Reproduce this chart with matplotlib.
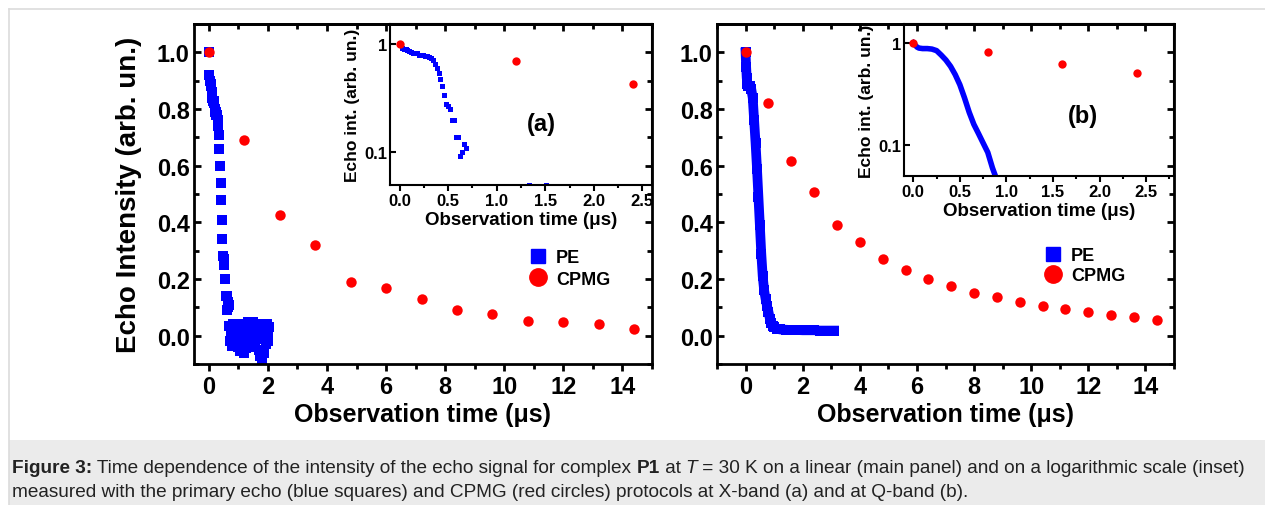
import matplotlib.pyplot as plt
from matplotlib.lines import Line2D
from matplotlib.patches import Rectangle
from matplotlib.ticker import MultipleLocator, FormatStrFormatter, NullLocator

plt.rcParams['font.family'] = ['Liberation Sans', 'DejaVu Sans']
plt.rcParams['font.weight'] = 'bold'
plt.rcParams['axes.labelweight'] = 'bold'

W, H = 1265, 506
BLUE = '#0000ff'
RED = '#ff0000'

# X-band (a): primary echo, decay part
pe_a_t = [0.00, 0.02, 0.04, 0.06, 0.08, 0.10, 0.12, 0.14, 0.16, 0.18,
          0.20, 0.22, 0.24, 0.26, 0.28, 0.30, 0.32, 0.34, 0.36, 0.38,
          0.40, 0.42, 0.44, 0.46, 0.48, 0.50, 0.52, 0.54, 0.56, 0.58,
          0.60, 0.62, 0.64, 0.66, 0.68]
pe_a_i = [1.00, 0.92, 0.90, 0.89, 0.88, 0.86, 0.84, 0.83, 0.83, 0.82,
          0.79, 0.80, 0.79, 0.78, 0.78, 0.76, 0.74, 0.71, 0.66, 0.60,
          0.54, 0.48, 0.41, 0.34, 0.28, 0.27, 0.25, 0.20, 0.20, 0.14,
          0.14, 0.092, 0.10, 0.12, 0.11]
# X-band (a): primary echo, noise floor
pe_a_noise_t = [0.70, 0.73, 0.76, 0.79, 0.82, 0.85, 0.88, 0.91, 0.94, 0.97,
                1.00, 1.03, 1.06, 1.09, 1.12, 1.15, 1.18, 1.21, 1.24, 1.27,
                1.30, 1.33, 1.36, 1.39, 1.42, 1.45, 1.48, 1.51, 1.54, 1.57,
                1.60, 1.63, 1.66, 1.69, 1.72, 1.75, 1.78, 1.81, 1.84, 1.87,
                1.90, 1.93, 1.96, 1.99, 2.02, 2.05]
pe_a_noise_i = [0.035, -0.02, 0.01, -0.035, 0.04, 0.0, -0.03, 0.02, -0.01, 0.04,
                -0.04, 0.015, -0.055, 0.03, -0.015, 0.04, -0.06, 0.0, 0.035, -0.045,
                0.02, 0.05, -0.03, 0.01, -0.02, 0.04, -0.04, 0.05, 0.005, -0.025,
                0.03, -0.01, 0.04, -0.05, 0.02, -0.07, 0.0, -0.095, 0.04, -0.06,
                0.025, -0.03, 0.04, 0.0, -0.02, 0.03]
cpmg_a_t = [0.0, 1.2, 2.4, 3.6, 4.8, 6.0, 7.2, 8.4, 9.6, 10.8, 12.0, 13.2, 14.4]
cpmg_a_i = [1.0, 0.69, 0.425, 0.32, 0.19, 0.17, 0.128, 0.091, 0.076, 0.053,
            0.048, 0.040, 0.023]

# Q-band (b)
pe_b_t = [0.0, 0.02, 0.04, 0.06, 0.1, 0.15, 0.2, 0.25, 0.3, 0.35, 0.4, 0.45,
          0.5, 0.55, 0.6, 0.65, 0.7, 0.75, 0.8, 0.85, 0.9, 0.95, 1.0, 1.1,
          1.2, 1.4, 1.6, 1.8, 2.0, 2.2, 2.4, 2.6, 2.8, 3.0, 3.1]
pe_b_i = [1.0, 0.95, 0.91, 0.89, 0.88, 0.88, 0.87, 0.84, 0.76, 0.68, 0.59, 0.49,
          0.39, 0.29, 0.21, 0.16, 0.13, 0.105, 0.085, 0.06, 0.045, 0.035, 0.03, 0.025,
          0.022, 0.021, 0.02, 0.02, 0.019, 0.019, 0.019, 0.018, 0.018, 0.018, 0.018]
cpmg_b_t = [0.0, 0.8, 1.6, 2.4, 3.2, 4.0, 4.8, 5.6, 6.4, 7.2, 8.0, 8.8, 9.6,
            10.4, 11.2, 12.0, 12.8, 13.6, 14.4]
cpmg_b_i = [1.0, 0.82, 0.616, 0.508, 0.392, 0.332, 0.271, 0.233, 0.200, 0.175,
            0.151, 0.136, 0.118, 0.106, 0.094, 0.083, 0.074, 0.065, 0.057]

caption_1 = [('Figure 3:', 'bold', 'normal'),
             (' Time dependence of the intensity of the echo signal for complex ', 'normal', 'normal'),
             ('P1', 'bold', 'normal'),
             (' at ', 'normal', 'normal'),
             ('T', 'normal', 'italic'),
             (' = 30 K on a linear (main panel) and on a logarithmic scale (inset)', 'normal', 'normal')]
caption_2 = [('measured with the primary echo (blue squares) and CPMG (red circles) '
              'protocols at X-band (a) and at Q-band (b).', 'normal', 'normal')]

fig = plt.figure(figsize=(W / 100, H / 100), dpi=100)


def px_axes(left, top, right, bottom, **kw):
    return fig.add_axes([left / W, 1 - bottom / H, (right - left) / W, (bottom - top) / H], **kw)


def style_main(ax, xlim):
    ax.set_xlim(*xlim)
    ax.set_ylim(-0.1, 1.1)
    ax.xaxis.set_major_locator(MultipleLocator(2))
    ax.xaxis.set_minor_locator(MultipleLocator(1))
    ax.yaxis.set_major_locator(MultipleLocator(0.2))
    ax.yaxis.set_minor_locator(MultipleLocator(0.1))
    ax.xaxis.set_major_formatter(FormatStrFormatter('%d'))
    ax.yaxis.set_major_formatter(FormatStrFormatter('%.1f'))
    for s in ax.spines.values():
        s.set_linewidth(2)
    ax.tick_params(axis='y', which='both', direction='in', left=True, right=True, width=2)
    ax.tick_params(axis='x', which='both', direction='out', width=2)
    ax.tick_params(which='major', length=5, labelsize=17, pad=3)
    ax.tick_params(which='minor', length=3.5)
    top = ax.secondary_xaxis('top')
    top.xaxis.set_major_locator(MultipleLocator(2))
    top.xaxis.set_minor_locator(MultipleLocator(1))
    top.tick_params(which='both', direction='in', labeltop=False, width=2)
    top.tick_params(which='major', length=5)
    top.tick_params(which='minor', length=3.5)
    top.spines['top'].set_linewidth(2)
    ax.set_xlabel('Observation time (\u03bcs)', fontsize=18, fontweight='bold', labelpad=3)


def style_inset(ax, xlim):
    ax.set_facecolor('none')
    ax.set_yscale('log')
    ax.set_xlim(*xlim)
    ax.set_ylim(0.05, 1.53)
    ax.xaxis.set_major_locator(MultipleLocator(0.5))
    ax.xaxis.set_minor_locator(MultipleLocator(0.25))
    ax.xaxis.set_major_formatter(FormatStrFormatter('%.1f'))
    ax.set_yticks([0.1, 1])
    ax.set_yticklabels(['0.1', '1'])
    ax.yaxis.set_minor_locator(NullLocator())
    for s in ax.spines.values():
        s.set_linewidth(1.5)
    ax.tick_params(axis='x', which='both', direction='out', width=1.5, top=False)
    ax.tick_params(axis='y', which='both', direction='in', width=1.5, right=False)
    ax.tick_params(which='major', length=4, labelsize=12, pad=2)
    ax.tick_params(which='minor', length=2.5)
    ax.set_xlabel('Observation time (\u03bcs)', fontsize=13.5, fontweight='bold', labelpad=2)
    ax.set_ylabel('Echo int. (arb. un.)', fontsize=12.5, fontweight='bold', labelpad=3)


legend_handles = [Line2D([], [], ls='none', marker='s', ms=10, color=BLUE),
                  Line2D([], [], ls='none', marker='o', ms=12.5, color=RED)]

# ---- panel (a) ----
ax_a = px_axes(194, 25, 652, 365)
ax_a.plot(pe_a_t, pe_a_i, 's', color=BLUE, ms=6.5, mew=0)
ax_a.plot(pe_a_noise_t, pe_a_noise_i, 's', color=BLUE, ms=6.5, mew=0)
ax_a.plot(cpmg_a_t, cpmg_a_i, 'o', color=RED, ms=7.5, mew=0)
style_main(ax_a, (-0.5, 15))
ax_a.set_ylabel('Echo Intensity (arb. un.)', fontsize=20, fontweight='bold', labelpad=11)
ax_a.legend(legend_handles, ['PE', 'CPMG'], loc='center left',
            bbox_to_anchor=(529 / W, 1 - 269.5 / H), bbox_transform=fig.transFigure,
            frameon=False, handlelength=1.0, handletextpad=0.5, labelspacing=0.25,
            borderpad=0, borderaxespad=0, prop=dict(size=13, weight='bold'))

in_a = px_axes(390, 25, 652, 186)
in_a.plot(pe_a_t, pe_a_i, 's', color=BLUE, ms=3.6, mew=0)
in_a.plot(pe_a_noise_t, pe_a_noise_i, 's', color=BLUE, ms=3.6, mew=0)
in_a.plot(cpmg_a_t, cpmg_a_i, 'o', color=RED, ms=6, mew=0)
style_inset(in_a, (-0.1, 2.6))
fig.text(541 / W, 1 - 125 / H, '(a)', fontsize=17, ha='center', va='center')

# ---- panel (b) ----
ax_b = px_axes(717, 25, 1174, 365)
ax_b.plot(pe_b_t, pe_b_i, '-s', color=BLUE, ms=7, lw=7, mew=0)
ax_b.plot(cpmg_b_t, cpmg_b_i, 'o', color=RED, ms=7.5, mew=0)
style_main(ax_b, (-1, 15))
ax_b.legend(legend_handles, ['PE', 'CPMG'], loc='center left',
            bbox_to_anchor=(1044 / W, 1 - 266.5 / H), bbox_transform=fig.transFigure,
            frameon=False, handlelength=1.0, handletextpad=0.5, labelspacing=0.15,
            borderpad=0, borderaxespad=0, prop=dict(size=13, weight='bold'))

in_b = px_axes(904, 25, 1174, 177)
in_b.plot(pe_b_t, pe_b_i, '-', color=BLUE, lw=4)
in_b.plot(cpmg_b_t, cpmg_b_i, 'o', color=RED, ms=6, mew=0)
style_inset(in_b, (-0.1, 2.8))
fig.text(1083 / W, 1 - 117 / H, '(b)', fontsize=17, ha='center', va='center')

# ---- caption box ----
fig.patches.append(Rectangle((9 / W, 0), 1 - 9 / W, 1 - 441 / H, transform=fig.transFigure,
                             facecolor='#ebebeb', edgecolor='none', zorder=-1))
fig.add_artist(Line2D([9 / W, 1], [1 - 10 / H, 1 - 10 / H], color='#dcdcdc', lw=1.2))
fig.add_artist(Line2D([9 / W, 9 / W], [0, 1 - 10 / H], color='#dcdcdc', lw=1.2))

cap = fig.add_axes([0, 0, 1, 1], facecolor='none')
cap.set_axis_off()
for line, y in ((caption_1, 473), (caption_2, 497)):
    prev = None
    for txt, weight, style in line:
        kw = dict(fontsize=13.7, fontweight=weight, fontstyle=style, color='#222222',
                  va='baseline', ha='left')
        if prev is None:
            prev = cap.text(12 / W, 1 - y / H, txt, transform=fig.transFigure, **kw)
        else:
            kw['va'] = 'bottom'
            prev = cap.annotate(txt, xy=(1, 0), xycoords=prev, **kw)

fig.savefig('out.png', dpi=100)
